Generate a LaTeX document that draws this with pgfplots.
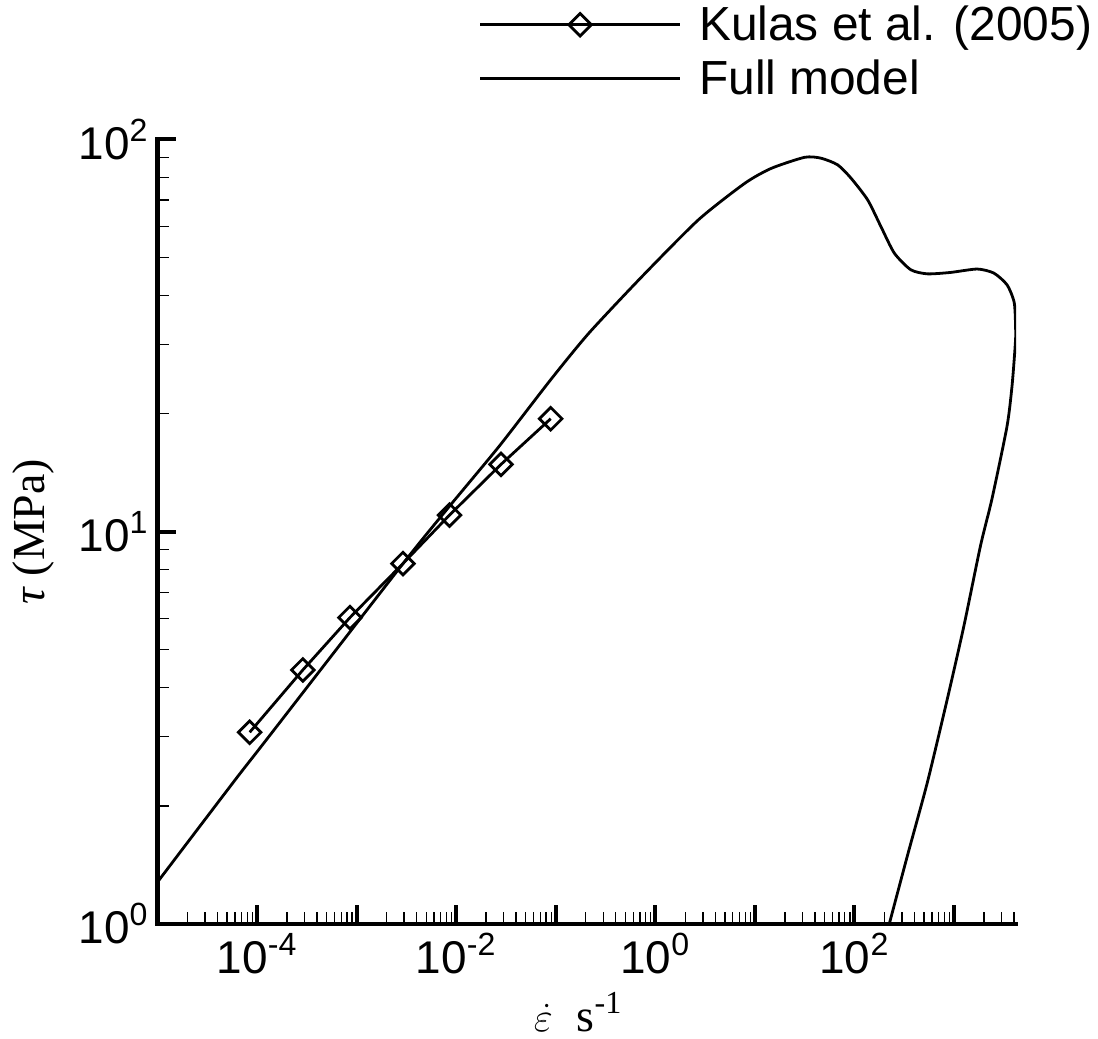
\documentclass[border=0pt]{standalone}
\usepackage{pgfplots}
\pgfplotsset{compat=1.18}
\usepackage{fontspec}
\setmainfont{Liberation Sans}
\newfontfamily\serifont{Liberation Serif}

\begin{document}
\begin{tikzpicture}
\begin{axis}[
  scale only axis, width=430.5pt, height=393.5pt,
  xmode=log, ymode=log,
  xmin=1e-5, xmax=4200, ymin=1, ymax=100,
  axis lines*=left,
  axis line style={line width=2.2pt, line cap=rect},
  tick align=inside,
  xtick={1e-4,1e-3,1e-2,1e-1,1,10,100,1000},
  xticklabels={10\textsuperscript{-4},,10\textsuperscript{-2},,10\textsuperscript{0},,10\textsuperscript{2},},
  minor xtick={2e-5,3e-5,4e-5,5e-5,6e-5,7e-5,8e-5,9e-5,
    2e-4,3e-4,4e-4,5e-4,6e-4,7e-4,8e-4,9e-4,
    2e-3,3e-3,4e-3,5e-3,6e-3,7e-3,8e-3,9e-3,
    2e-2,3e-2,4e-2,5e-2,6e-2,7e-2,8e-2,9e-2,
    0.2,0.3,0.4,0.5,0.6,0.7,0.8,0.9,
    2,3,4,5,6,7,8,9,
    20,30,40,50,60,70,80,90,
    200,300,400,500,600,700,800,900,
    2000,3000,4000},
  ytick={1,10,100},
  yticklabels={10\textsuperscript{0},10\textsuperscript{1},10\textsuperscript{2}},
  minor ytick={2,3,4,5,6,7,8,9,20,30,40,50,60,70,80,90},
  major tick length=9.5pt, minor tick length=6pt,
  major tick style={line width=2pt, black},
  minor tick style={line width=0.7pt, black},
  tick label style={font=\fontsize{23}{23}\selectfont},
  xticklabel style={yshift=-1pt},
  yticklabel style={xshift=-1pt},
  xlabel={{\fontsize{21}{21}\selectfont$\dot{\varepsilon}$}\hspace{12pt}{\serifont\fontsize{23}{23}\selectfont s\textsuperscript{-1}}},
  xlabel style={at={(axis description cs:0.49,-0.112)}, anchor=center},
  ylabel={\serifont\fontsize{23}{23}\selectfont{\itshape τ} (MPa)},
  ylabel style={at={(axis description cs:-0.144,0.5)}, anchor=center, rotate=0},
  legend image code/.code={\draw[mark repeat=2,mark phase=2,line width=1.4pt,#1] plot coordinates {(0pt,0pt) (50pt,0pt) (100pt,0pt)};},
  legend style={draw=none, fill=none, font=\fontsize{24}{24}\selectfont,
    at={(axis description cs:0.374,1.178)}, anchor=north west,
    row sep=2pt, column sep=6pt, cells={anchor=west}, inner sep=0pt,
    nodes={inner sep=3pt}},
]
\addplot[black, line width=1.4pt, mark=square, mark size=4pt,
  mark options={rotate=45, solid, line width=1.4pt}] coordinates {
(8.43e-5,3.08) (2.88e-4,4.44) (8.57e-4,6.04) (2.92e-3,8.29)
(8.57e-3,11.02) (2.82e-2,14.84) (8.9e-2,19.4)
};
\addlegendentry{Kulas et al. (2005)}
\addplot[black, line width=1.4pt, smooth, tension=0.4] coordinates {
(1e-5,1.279) (1.845e-5,1.570) (6.31e-5,2.366) (1.259e-4,2.962)
(2.924e-3,8.291) (8.57e-3,11.61) (2.71e-2,16.52) (8.91e-2,24.40)
(0.2153,32.06) (0.7345,44.67) (2.710,62.33) (7.943,77.27)
(14.66,84.33) (31.62,89.95) (46.34,89.47) (68.08,86.01)
(92.47,79.58) (135.8,70.07) (184.5,59.93) (251.2,51.29)
(368.1,46.50) (540.8,45.39) (924.7,45.77) (1710,46.69)
(2512,45.60) (3412,42.56) (4036,38.25) (4169,32.06)
(4093,29.10) (3828,23.47) (3412,18.56) (2415,12.16)
(1845,9.192) (1259,5.754) (857.0,3.744) (540.8,2.297)
(341.2,1.495) (223.9,1.0)
};
\addlegendentry{Full model}
\end{axis}
\path (current axis.south west) ++(-79pt,-56pt) rectangle ([shift={(39.5pt,69.5pt)}]current axis.north east);
\end{tikzpicture}
\end{document}
